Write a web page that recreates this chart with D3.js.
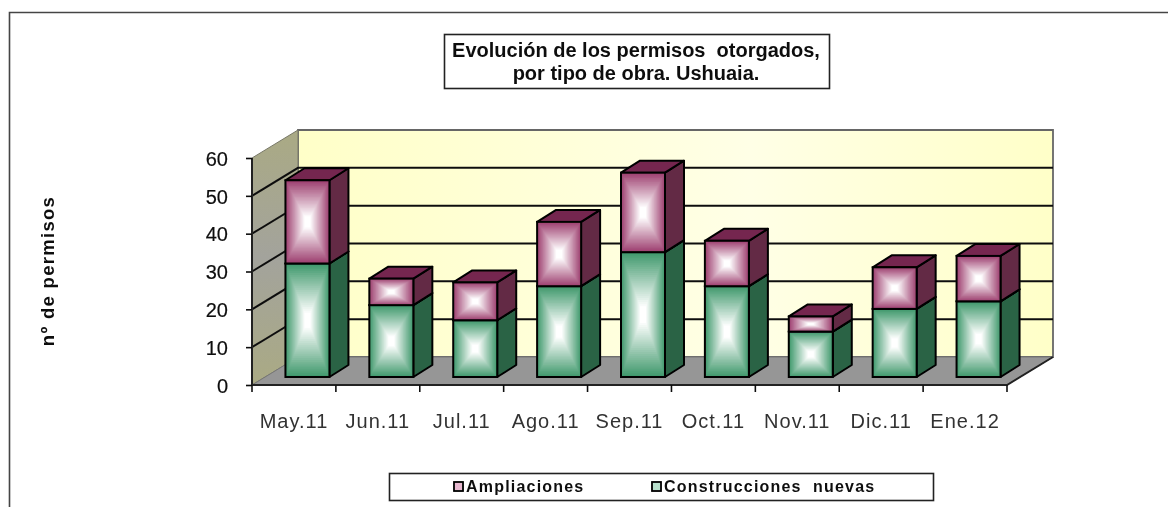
<!DOCTYPE html>
<html><head><meta charset="utf-8">
<script src="https://cdn.jsdelivr.net/npm/d3@7"></script>
<style>
html,body{margin:0;padding:0;background:#fff;overflow:hidden}
svg{display:block}
text{font-family:"Liberation Sans",Arial,sans-serif}
</style></head><body>
<svg id="c" width="1168" height="507"></svg>
<script>
const months = ["May.11","Jun.11","Jul.11","Ago.11","Sep.11","Oct.11","Nov.11","Dic.11","Ene.12"];
const nuevas = [30,19,15,24,33,24,12,18,20];
const ampliaciones = [22,7,10,17,21,12,4,11,12];
const yTicks = [0,10,20,30,40,50,60];
const titleLines = ["Evolución de los permisos  otorgados,","por tipo de obra. Ushuaia."];
const yTitle = "nº de permisos";
const legendItems = ["Ampliaciones","Construcciones  nuevas"];

const svg = d3.select("#c");
const defs = svg.append("defs");
defs.append("filter").attr("id","soft").attr("x","-2%").attr("y","-2%").attr("width","104%").attr("height","104%")
  .append("feGaussianBlur").attr("stdDeviation",0.5);
const wall = defs.append("linearGradient").attr("id","wall");
[[0,"#ffffc8"],[.6,"#ffffe6"],[1,"#ffffc8"]].forEach(s=>wall.append("stop").attr("offset",s[0]).attr("stop-color",s[1]));
const side = defs.append("linearGradient").attr("id","side").attr("x1",0).attr("y1",0).attr("x2",0).attr("y2",1);
[[0,"#aaaa84"],[.5,"#a3a39c"],[1,"#aaaa84"]].forEach(s=>side.append("stop").attr("offset",s[0]).attr("stop-color",s[1]));

const g = svg.append("g").attr("filter","url(#soft)");

// outer frame
g.append("path").attr("d","M9.5,510V12.5H1175").attr("fill","none").attr("stroke","#444").attr("stroke-width",1.6);

// scales
const x = d3.scaleBand().domain(months).range([252,1007]);
const y = d3.scaleLinear().domain([0,60]).range([385,158]);
const dx = 46, dy = -28;            // floor depth
const bx = 19, by = -12;            // bar depth
const ox = (dx-bx)/2, oy = (dy-by)/2; // bar offset into the floor
const barW = 44;
const [x0,x1] = x.range();
const pts = a=>a.map(p=>p.join(",")).join(" ");

// walls
g.append("polygon").attr("points",pts([[x0+dx,y(0)+dy],[x1+dx,y(0)+dy],[x1+dx,y(60)+dy],[x0+dx,y(60)+dy]]))
  .attr("fill","url(#wall)").attr("stroke","#666").attr("stroke-width",1.8);
g.append("polygon").attr("points",pts([[x0,y(0)],[x0+dx,y(0)+dy],[x0+dx,y(60)+dy],[x0,y(60)]]))
  .attr("fill","url(#side)").attr("stroke","#777766").attr("stroke-width",1);
g.append("polygon").attr("points",pts([[x0,y(0)],[x0+dx,y(0)+dy],[x1+dx,y(0)+dy],[x1,y(0)]]))
  .attr("fill","#969696").attr("stroke","#777").attr("stroke-width",1);

// gridlines
g.selectAll(".grid").data(yTicks.filter(d=>d>0&&d<60)).join("path").attr("class","grid")
  .attr("d",d=>`M${x0},${y(d)}L${x0+dx},${y(d)+dy}H${x1+dx}`)
  .attr("fill","none").attr("stroke","#111").attr("stroke-width",2);

// axes
g.append("path").attr("d",`M${x0},${y(60)}V${y(0)}H${x1}L${x1+dx},${y(0)+dy}`).attr("fill","none").attr("stroke","#222").attr("stroke-width",2);

const yAxis = g.append("g").attr("transform",`translate(${x0},0)`)
  .call(d3.axisLeft(y).tickValues(yTicks).tickSize(6).tickPadding(18));
yAxis.select(".domain").remove();
yAxis.selectAll("line").attr("stroke","#111").attr("stroke-width",1.6);
yAxis.selectAll("text").attr("font-family",null).attr("font-size",20).attr("fill","#111").attr("stroke","#111").attr("stroke-width",.2).attr("dy","0.36em");

const xAxis = g.append("g").attr("transform",`translate(0,${y(0)})`)
  .call(d3.axisBottom(x).tickSize(0).tickPadding(29));
xAxis.select(".domain").remove();
xAxis.selectAll("text").attr("font-family",null).attr("font-size",20).attr("letter-spacing",1).attr("fill","#333");
g.selectAll(".xt").data(months.map((_, i)=>i).concat(months.length)).join("line").attr("class","xt")
  .attr("x1",i=>x0+i*x.step()).attr("x2",i=>x0+i*x.step()).attr("y1",y(0)).attr("y2",y(0)+7)
  .attr("stroke","#111").attr("stroke-width",1.6);

// stacked 3D bars
const palette = {
  green:{edge:"#41996d",side:"#2a6345",top:"#2f7350"},
  purple:{edge:"#9e4070",side:"#632a45",top:"#752650"}
};
const steps = 30;
function bar(parent, cx, v0, v1, c){
  const l = cx+ox-barW/2, r = l+barW;
  const b = y(v0)+oy, t = y(v1)+oy;
  const s = parent.append("g");
  s.append("polygon").attr("points",pts([[r,b],[r+bx,b+by],[r+bx,t+by],[r,t]]))
    .attr("fill",c.side).attr("stroke","#000").attr("stroke-width",2).attr("stroke-linejoin","round");
  s.append("polygon").attr("points",pts([[l,t],[l+bx,t+by],[r+bx,t+by],[r,t]]))
    .attr("fill",c.top).attr("stroke","#000").attr("stroke-width",2).attr("stroke-linejoin","round");
  const col = d3.interpolateRgb(c.edge,"#ffffff");
  const mx=(l+r)/2,my=(t+b)/2,hw=barW/2,hh=(b-t)/2;
  s.selectAll("rect").data(d3.range(steps)).join("rect")
    .attr("x",i=>mx-hw*(1-i/steps)).attr("y",i=>my-hh*(1-i/steps))
    .attr("width",i=>2*hw*(1-i/steps)).attr("height",i=>2*hh*(1-i/steps))
    .attr("fill",i=>col(Math.min(1,(i/(steps-1))*1.12)));
  s.append("rect").attr("x",l).attr("y",t).attr("width",barW).attr("height",b-t)
    .attr("fill","none").attr("stroke","#000").attr("stroke-width",2);
}
const barsG = g.append("g");
months.forEach((m,i)=>{
  const cx = x(m)+x.bandwidth()/2;
  bar(barsG,cx,0,nuevas[i],palette.green);
  bar(barsG,cx,nuevas[i],nuevas[i]+ampliaciones[i],palette.purple);
});

// title
g.append("rect").attr("x",444.5).attr("y",34.5).attr("width",385).attr("height",54).attr("fill","#fff").attr("stroke","#222").attr("stroke-width",1.6);
g.selectAll(".title").data(titleLines).join("text").attr("class","title")
  .attr("x",636).attr("y",(d,i)=>56.5+i*23.5).attr("text-anchor","middle")
  .attr("font-size",20).attr("font-weight","bold").attr("fill","#111")
  .style("white-space","pre").text(d=>d);

// y title
g.append("text").attr("transform","translate(54,271) rotate(-90)").attr("text-anchor","middle")
  .attr("font-size",18.5).attr("font-weight","bold").attr("letter-spacing",1.3).attr("fill","#111").text(yTitle);

// legend
g.append("rect").attr("x",389.5).attr("y",473.5).attr("width",544).attr("height",27).attr("fill","#fff").attr("stroke","#222").attr("stroke-width",1.6);
const legendX = [454,652], legendFill = ["#e8b8d0","#b8e0cc"];
const lg = g.selectAll(".lg").data(legendItems).join("g").attr("class","lg").attr("transform",(d,i)=>`translate(${legendX[i]},0)`);
lg.append("rect").attr("y",482).attr("width",9).attr("height",9).attr("fill",(d,i)=>legendFill[i]).attr("stroke","#000").attr("stroke-width",1.8);
lg.append("text").attr("x",12).attr("y",492).attr("font-size",16).attr("font-weight","bold").attr("letter-spacing",1.2).attr("fill","#111")
  .style("white-space","pre").text(d=>d);
</script>
</body></html>
